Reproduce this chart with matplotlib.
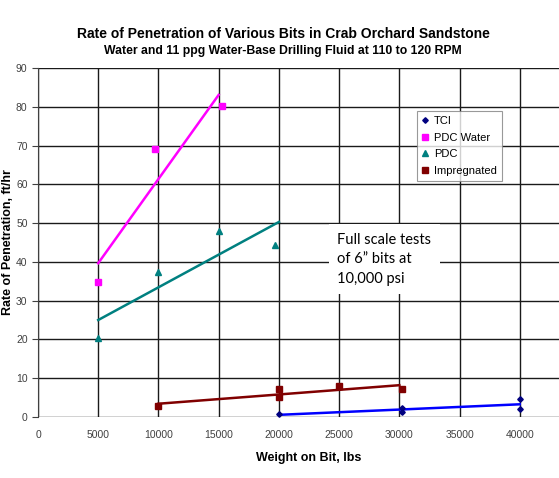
import matplotlib
matplotlib.use("Agg")
import matplotlib.pyplot as plt
import numpy as np

plt.rcParams['font.family'] = ['Liberation Sans', 'DejaVu Sans']

# data
tci_x = [20000, 30200, 30200, 40000, 40000]
tci_y = [0.7, 2.2, 1.4, 4.7, 2.0]
pdcw_x = [5000, 9700, 15300]
pdcw_y = [34.7, 69.2, 80.2]
pdc_x = [5000, 10000, 15000, 19700]
pdc_y = [20.5, 37.3, 48.0, 44.3]
imp_x = [10000, 20000, 20000, 25000, 30200]
imp_y = [2.8, 7.3, 5.1, 7.9, 7.2]

# trend line ranges
tci_rng = [20000, 40000]
pdcw_rng = [5000, 15000]
pdc_rng = [5000, 20000]
imp_rng = [10000, 30000]

fig = plt.figure(figsize=(5.59, 4.78), dpi=100)
ax = fig.add_axes([38/559, 1-417/478, (580-38)/559, (417-68)/478])

series = [
    ("TCI", tci_x, tci_y, tci_rng, "D", "#000080", "#0000ff", 2.8),
    ("PDC Water", pdcw_x, pdcw_y, pdcw_rng, "s", "#ff00ff", "#ff00ff", 4.5),
    ("PDC", pdc_x, pdc_y, pdc_rng, "^", "#008080", "#008080", 3.8),
    ("Impregnated", imp_x, imp_y, imp_rng, "s", "#800000", "#800000", 4.6),
]

for name, xs, ys, rng, mk, mc, lc, ms in series:
    ax.plot(xs, ys, linestyle="none", marker=mk, color=mc, markersize=ms,
            label=name, zorder=4)
    k, b = np.polyfit(xs, ys, 1)
    xr = np.array(rng)
    ax.plot(xr, k * xr + b, color=lc, linewidth=1.8, zorder=3)

ax.set_xlim(0, 45000)
ax.set_ylim(0, 90)
ax.set_xticks(np.arange(0, 45000, 5000))
ax.set_yticks(np.arange(0, 100, 10))
ax.grid(True, color="#1a1a1a", linewidth=1)
ax.set_axisbelow(True)
for s in ["top", "right", "bottom"]:
    ax.spines[s].set_visible(False)
ax.spines["left"].set_color("#404040")
ax.tick_params(axis="both", labelsize=7.5, labelcolor="#404040", color="#404040", length=4)
ax.tick_params(axis="x", length=0, pad=9)

ax.set_xlabel("Weight on Bit, lbs", fontsize=9, fontweight="bold", labelpad=9)
fig.text(8/559, 1-242/478, "Rate of Penetration, ft/hr", rotation=90,
         ha="center", va="center", fontsize=9, fontweight="bold")

fig.text(283/559, 1-34/478, "Rate of Penetration of Various Bits in Crab Orchard Sandstone",
         ha="center", va="center", fontsize=10, fontweight="bold")
fig.text(283/559, 1-51/478, "Water and 11 ppg Water-Base Drilling Fluid at 110 to 120 RPM",
         ha="center", va="center", fontsize=8.8, fontweight="bold")

leg = ax.legend(loc="upper left", bbox_to_anchor=((417-38)/542, 1-(111-68)/349),
                fontsize=8, frameon=True, fancybox=False, edgecolor="#808080",
                handlelength=0.6, handletextpad=0.5, borderpad=0.45,
                labelspacing=0.6, borderaxespad=0)
leg.get_frame().set_linewidth(0.8)

ax.text(24850, 40.7, "Full scale tests\nof 6\u201d bits at\n10,000 psi",
        fontsize=10.5, family=["Lato", "DejaVu Sans"], va="center", ha="left",
        linespacing=1.5, zorder=5,
        bbox=dict(facecolor="white", edgecolor="none", pad=6))

fig.savefig("out.png", dpi=100)
